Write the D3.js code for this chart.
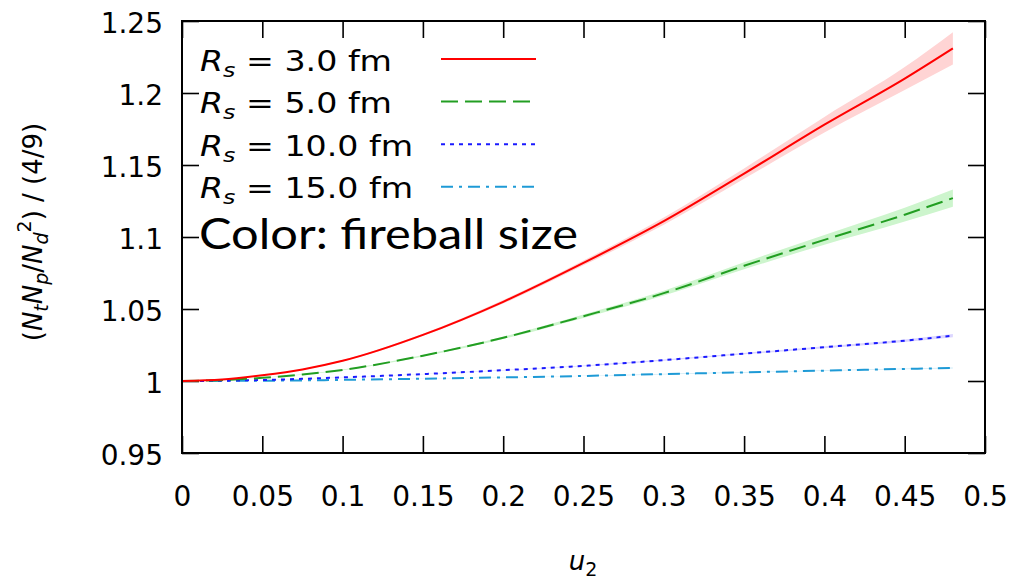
<!DOCTYPE html>
<html>
<head>
<meta charset="utf-8">
<script src="https://cdn.jsdelivr.net/npm/d3@7"></script>
<style>
  html, body { margin: 0; padding: 0; background: #fff; }
  svg { display: block; font-family: "DejaVu Sans", sans-serif; }
</style>
</head>
<body>
<svg id="chart" width="1012" height="579"></svg>
<script>
// u2 sample points and the double ratio for each fireball radius
const u2 = [0, 0.025, 0.05, 0.075, 0.1, 0.15, 0.2, 0.25, 0.3, 0.35, 0.4, 0.45, 0.48];

const rs3    = [1.0, 1.001, 1.004, 1.008, 1.014, 1.032, 1.055, 1.082, 1.111, 1.144, 1.178, 1.210, 1.231];
const rs3Err = [0, 0.0001, 0.0002, 0.0003, 0.0005, 0.0008, 0.0012, 0.0017, 0.0025, 0.0036, 0.0054, 0.0080, 0.0112];

const rs5    = [1.0, 1.0006, 1.0022, 1.0045, 1.0077, 1.0176, 1.030, 1.045, 1.061, 1.080, 1.098, 1.1155, 1.127];
const rs5Err = [0, 0, 0.0001, 0.0002, 0.0003, 0.0005, 0.0008, 0.0012, 0.0017, 0.0024, 0.0034, 0.0048, 0.006];

const rs10    = [1.0, 1.0002, 1.0007, 1.0015, 1.0025, 1.0048, 1.0075, 1.0105, 1.0145, 1.019, 1.0235, 1.028, 1.0315];
const rs10Err = [0, 0, 0, 0, 0.0001, 0.0001, 0.0002, 0.0003, 0.0004, 0.0005, 0.0007, 0.0009, 0.0011];

const rs15    = [1.0, 1.0001, 1.0002, 1.0004, 1.0008, 1.0016, 1.0025, 1.0035, 1.0048, 1.006, 1.0072, 1.0084, 1.009];
const rs15Err = [0, 0, 0, 0, 0, 0.0001, 0.0001, 0.0001, 0.0002, 0.0002, 0.0003, 0.0003, 0.0004];

const seriesLabels = ["3.0 fm", "5.0 fm", "10.0 fm", "15.0 fm"];
const xTicks = [0, 0.05, 0.1, 0.15, 0.2, 0.25, 0.3, 0.35, 0.4, 0.45, 0.5];
const yTicks = [0.95, 1, 1.05, 1.1, 1.15, 1.2, 1.25];
const annotation = "Color: fireball size";

const styles = [
  { color: "#ff0000", band: "#ffd4d4", dash: null },
  { color: "#229e22", band: "#cdf5cd", dash: "17,7" },
  { color: "#1a1aff", band: "#dcd6ff", dash: "4,5" },
  { color: "#1e9ad6", band: "#cdeaf7", dash: "12,6,3,6" }
];

const values = [rs3, rs5, rs10, rs15];
const errors = [rs3Err, rs5Err, rs10Err, rs15Err];

const frame = { left: 182, right: 985, top: 21, bottom: 453 };
const svg = d3.select("#chart");

const x = d3.scaleLinear().domain([0, 0.5]).range([frame.left, frame.right]);
const y = d3.scaleLinear().domain([0.95, 1.25]).range([frame.bottom, frame.top]);

const tickLen = 17;
const fmt = d => String(+d.toFixed(2));

// axes with inward ticks on all four sides
const gx = svg.append("g").attr("transform", `translate(0,${frame.bottom})`)
  .call(d3.axisBottom(x).tickValues(xTicks).tickFormat(fmt).tickSizeInner(-tickLen).tickSizeOuter(0));
gx.selectAll("text").attr("y", 53).attr("dy", null);

const gy = svg.append("g").attr("transform", `translate(${frame.left},0)`)
  .call(d3.axisLeft(y).tickValues(yTicks).tickFormat(fmt).tickSizeInner(-tickLen).tickSizeOuter(0));
gy.selectAll("text").attr("x", -19).attr("dy", "0.42em");

const gxt = svg.append("g").attr("transform", `translate(0,${frame.top})`)
  .call(d3.axisTop(x).tickValues(xTicks).tickFormat("").tickSizeInner(-tickLen).tickSizeOuter(0));
const gyr = svg.append("g").attr("transform", `translate(${frame.right},0)`)
  .call(d3.axisRight(y).tickValues(yTicks).tickFormat("").tickSizeInner(-tickLen).tickSizeOuter(0));

[gx, gy, gxt, gyr].forEach(g => {
  g.select(".domain").remove();
  g.selectAll(".tick line").attr("stroke", "#000").attr("stroke-width", 1.6);
  g.selectAll("text").attr("fill", "#000").style("font-size", "28px").style("font-family", "DejaVu Sans");
});

// bands then curves
const area = d3.area()
  .x(d => x(d.u))
  .y0(d => y(d.v - d.e))
  .y1(d => y(d.v + d.e))
  .curve(d3.curveMonotoneX);
const line = d3.line()
  .x(d => x(d.u))
  .y(d => y(d.v))
  .curve(d3.curveMonotoneX);

const series = values.map((vals, i) => u2.map((u, j) => ({ u, v: vals[j], e: errors[i][j] })));

series.forEach((pts, i) => {
  svg.append("path").attr("d", area(pts)).attr("fill", styles[i].band).attr("stroke", "none");
});
series.slice().reverse().forEach((pts, r) => {
  const i = series.length - 1 - r;
  svg.append("path").attr("d", line(pts))
    .attr("fill", "none")
    .attr("stroke", styles[i].color)
    .attr("stroke-width", 2)
    .attr("stroke-dasharray", styles[i].dash);
});

// frame
svg.append("rect")
  .attr("x", frame.left).attr("y", frame.top)
  .attr("width", frame.right - frame.left).attr("height", frame.bottom - frame.top)
  .attr("fill", "none").attr("stroke", "#000").attr("stroke-width", 2);

// legend
const legend = svg.append("g");
seriesLabels.forEach((lab, i) => {
  const yLine = 59 + i * 42.6;
  const t = legend.append("text")
    .attr("x", 200).attr("y", yLine + 11.5)
    .attr("textLength", lab.length > 6 ? 213 : 192)
    .attr("lengthAdjust", "spacingAndGlyphs")
    .style("font-size", "28px").attr("fill", "#000");
  t.append("tspan").style("font-style", "italic").text("R");
  t.append("tspan").style("font-style", "italic").style("font-size", "20px").attr("dy", 6).text("s");
  t.append("tspan").attr("dy", -6).text(" = " + lab);
  legend.append("line")
    .attr("x1", 441).attr("x2", 536).attr("y1", yLine).attr("y2", yLine)
    .attr("stroke", styles[i].color).attr("stroke-width", 2)
    .attr("stroke-dasharray", styles[i].dash);
});

// annotation
svg.append("text")
  .attr("x", 199).attr("y", 249)
  .attr("textLength", 379).attr("lengthAdjust", "spacingAndGlyphs")
  .style("font-family", "Lato, 'Open Sans', sans-serif")
  .style("font-size", "42px").attr("fill", "#000")
  .text(annotation);

// y-axis title
const yt = svg.append("text")
  .attr("transform", "translate(42,232) rotate(-90)")
  .attr("text-anchor", "middle")
  .style("font-size", "26px").attr("fill", "#000");
yt.append("tspan").text("(");
yt.append("tspan").style("font-style", "italic").text("N");
yt.append("tspan").style("font-style", "italic").style("font-size", "19px").attr("dy", 6).text("t");
yt.append("tspan").style("font-style", "italic").attr("dy", -6).text("N");
yt.append("tspan").style("font-style", "italic").style("font-size", "19px").attr("dy", 6).text("p");
yt.append("tspan").attr("dy", -6).text("/");
yt.append("tspan").style("font-style", "italic").text("N");
yt.append("tspan").style("font-style", "italic").style("font-size", "19px").attr("dy", 6).text("d");
yt.append("tspan").style("font-size", "19px").attr("dy", -17).text("2");
yt.append("tspan").attr("dy", 11).text(") / (4/9)");

// x-axis title
const xt = svg.append("text")
  .attr("x", 583).attr("y", 570)
  .attr("text-anchor", "middle")
  .style("font-size", "26px").attr("fill", "#000");
xt.append("tspan").style("font-style", "italic").text("u");
xt.append("tspan").style("font-size", "19px").attr("dy", 6).text("2");
</script>
</body>
</html>
